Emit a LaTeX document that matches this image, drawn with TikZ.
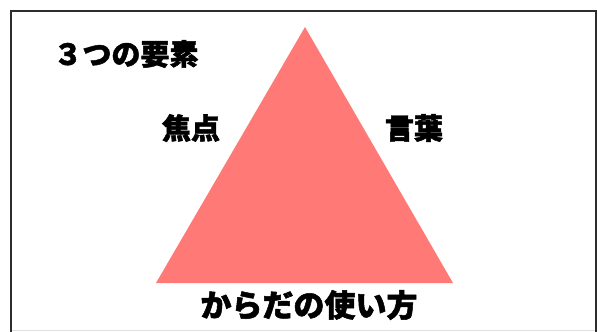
\documentclass[tikz,border=0pt]{standalone}
\usepackage{fontspec}
\newfontfamily\cjk{Noto Sans CJK JP}[BoldFeatures={FakeBold=1.6}]
\definecolor{tri}{RGB}{255,122,118}
\definecolor{frame}{RGB}{45,45,45}
\begin{document}
\begin{tikzpicture}[x=1pt,y=-1pt,
  lbl/.style={font=\cjk\bfseries\fontsize{29}{29}\selectfont, inner sep=0pt, anchor=center, text=black}]
\useasboundingbox (0,0) rectangle (598,332);
\fill[white] (0,0) rectangle (598,332);
% frame
\draw[black!12, line width=0.8pt] (11,330) -- (596,330);
\draw[frame, line width=2pt] (11,333) -- (11,11) -- (596,11) -- (596,333);
% triangle
\coordinate (apex) at (305,27);
\coordinate (bl) at (156,283);
\coordinate (br) at (453,283);
\fill[tri] (apex) -- (bl) -- (br) -- cycle;
% labels
\node[lbl, font=\cjk\bfseries\fontsize{29}{29}\selectfont] (title) at (126,54) {３つの要素};
\node[lbl] (focus) at (191,128) {焦点};
\node[lbl] (words) at (414,128) {言葉};
\node[lbl, font=\cjk\bfseries\fontsize{31}{31}\selectfont] (body) at (309,305) {からだの使い方};
\end{tikzpicture}
\end{document}
